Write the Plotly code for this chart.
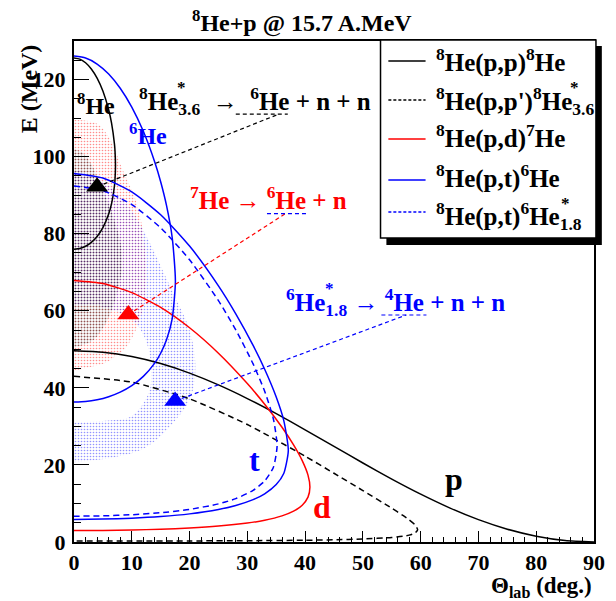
import plotly.graph_objects as go

# ---------------- data ----------------
# 8He(p,p)8He : proton branch
pp_p_theta = [0, 5, 10, 15, 20, 25, 30, 35, 40, 45, 50, 55, 60, 65, 70, 75, 80, 85, 90]
pp_p_E = [49.62, 49.24, 48.12, 46.30, 43.82, 40.76, 37.22, 33.30, 29.12, 24.81, 20.50,
          16.32, 12.41, 8.86, 5.80, 3.32, 1.50, 0.38, 0.0]
# 8He(p,p)8He : recoiling 8He branch
pp_he_theta = [0, 1, 2, 3, 4, 5, 6, 6.5, 7, 7.1, 7.18, 7.1, 7, 6.5, 6, 5, 4, 3, 2, 1, 0]
pp_he_E = [125.6, 125.3, 124.36, 122.75, 120.36, 117.0, 112.15, 108.7, 103.32, 101.44, 97.69,
           94.08, 92.37, 87.79, 85.09, 81.57, 79.29, 77.75, 76.74, 76.17, 75.98]
# 8He(p,p')8He*(3.6)
ppx_theta = [0, 10, 20, 30, 40, 45, 50, 55, 57, 58, 59, 59.48, 59, 58, 57, 55, 50, 45, 40, 30, 20, 10, 0]
ppx_E = [42.98, 41.48, 37.14, 30.48, 22.26, 17.84, 13.34, 8.76, 6.82, 5.76, 4.48, 3.20,
         2.29, 1.78, 1.50, 1.17, 0.77, 0.57, 0.46, 0.34, 0.28, 0.25, 0.24]
# 8He(p,d)7He
pd_theta = [0, 5, 10, 15, 20, 25, 30, 33, 36, 38, 39.5, 40.5, 40.83, 40.5, 39.5, 38, 36, 33, 30, 25, 20, 15, 10, 5, 0]
pd_E = [67.86, 67.07, 64.72, 60.87, 55.59, 48.99, 41.11, 35.75, 29.77, 25.21, 21.13, 17.34, 14.20,
        11.64, 9.55, 8.00, 6.78, 5.64, 4.91, 4.12, 3.63, 3.32, 3.12, 3.01, 2.97]
# 8He(p,t)6He : triton branch
pt_theta = [0, 5, 10, 15, 20, 25, 28, 31, 33, 35, 36.3, 37.09, 36.3, 35, 33, 31, 28, 25, 20, 15, 10, 5, 0]
pt_E = [95.63, 94.43, 90.84, 84.92, 76.78, 66.48, 59.22, 51.02, 44.83, 37.62, 31.55, 23.68,
        17.77, 14.91, 12.51, 10.99, 9.47, 8.44, 7.30, 6.60, 6.17, 5.94, 5.86]
# 8He(p,t)6He : 6He branch
pt_he_theta = [0, 2, 4, 6, 8, 10, 12, 14, 15, 16, 17, 17.55, 17, 16, 15, 14, 12, 10, 8, 6, 4, 2, 0]
pt_he_E = [126.08, 125.57, 124.03, 121.44, 117.75, 112.85, 106.56, 98.48, 93.47, 87.39, 78.95, 67.66,
           57.99, 52.39, 48.98, 46.49, 42.97, 40.57, 38.88, 37.70, 36.91, 36.46, 36.31]
# 8He(p,t)6He*(1.8)
ptx_theta = [0, 5, 10, 15, 20, 25, 28, 31, 33, 34.5, 35.15, 34.5, 33, 31, 28, 25, 20, 15, 10, 5, 0]
ptx_E = [92.40, 91.18, 87.54, 81.53, 73.23, 62.63, 55.04, 46.21, 39.11, 31.99, 24.88,
         19.35, 15.83, 13.40, 11.25, 9.89, 8.45, 7.59, 7.07, 6.79, 6.70]

# simulated-event clouds (outline of each band)
red_cloud_theta = [0, 3, 5.5, 7, 9, 10.7, 12, 12.5, 12.5, 12, 10.7, 8.3, 6.4, 4, 0]
red_cloud_E = [44.5, 45.5, 46.5, 48, 50.5, 55, 61, 67.9, 71, 80, 88.6, 97, 104, 108.5, 109.5]
black_cloud_theta = [0, 3, 4.8, 6.5, 7.5, 8.2, 8.2, 7.5, 6.2, 4.5, 3, 1.5, 0]
black_cloud_E = [50.5, 52, 55, 60, 65, 70, 76, 81, 87, 93, 98, 101, 102]
blue_cloud_theta = [0, 7, 12.5, 17.1, 20.2, 21, 20, 18, 15.5, 13, 10, 6.5, 3, 0,
                    0, 3.5, 7, 10.5, 12.5, 13.3, 13.2, 12, 9.8, 6, 0]
blue_cloud_E = [20.7, 22, 24.6, 30.8, 37.6, 46, 55, 62, 70, 78, 86, 92, 95, 96,
                62, 61.5, 60, 57, 52, 46, 40, 36, 32.5, 31.5, 31]

# decay markers
marker_theta = [4.0, 9.4, 17.5]
marker_E = [92.2, 59.0, 36.6]
marker_colors = ["black", "red", "blue"]

# pointer lines (from marker to label) and label underlines
pointer_end_theta = [35.4, 36.6, 57.5]
pointer_end_E = [111.0, 85.2, 58.9]
pointer_colors = ["black", "red", "blue"]
underline_theta0 = [28.0, 33.4, 53.2]
underline_theta1 = [37.0, 40.2, 61.0]
underline_E = [111.0, 85.2, 58.9]

FONT = "Liberation Serif"
TS = 25  # text size

fig = go.Figure()

# clouds
for th, e, col, sz, sol in [
    (red_cloud_theta, red_cloud_E, "rgba(255,0,0,0.9)", 3, 0.24),
    (blue_cloud_theta, blue_cloud_E, "rgba(0,0,255,0.85)", 3, 0.24),
    (black_cloud_theta, black_cloud_E, "rgba(0,0,0,0.85)", 3, 0.3),
]:
    fig.add_trace(go.Scatter(
        x=th, y=e, mode="lines", line=dict(width=0, shape="spline"), fill="toself",
        fillpattern=dict(shape=".", fgcolor=col, bgcolor="rgba(0,0,0,0)", size=sz, solidity=sol),
        hoverinfo="skip", showlegend=False))

# kinematic curves
curves = [
    (pp_p_theta, pp_p_E, "black", "solid"),
    (pp_he_theta, pp_he_E, "black", "solid"),
    (ppx_theta, ppx_E, "black", "6px,4px"),
    (pd_theta, pd_E, "red", "solid"),
    (pt_theta, pt_E, "blue", "solid"),
    (pt_he_theta, pt_he_E, "blue", "solid"),
    (ptx_theta, ptx_E, "blue", "6px,4px"),
]
for th, e, col, dash in curves:
    fig.add_trace(go.Scatter(x=th, y=e, mode="lines",
                             line=dict(color=col, width=1.5, dash=dash, shape="spline", smoothing=0.6),
                             showlegend=False))

# pointer lines and underlines
for i in range(3):
    fig.add_trace(go.Scatter(x=[marker_theta[i], pointer_end_theta[i]], y=[marker_E[i], pointer_end_E[i]],
                             mode="lines", line=dict(color=pointer_colors[i], width=1.2, dash="4px,3px"),
                             showlegend=False))
underline_colors = ["black", "blue", "blue"]
for i in range(3):
    fig.add_trace(go.Scatter(x=[underline_theta0[i], underline_theta1[i]], y=[underline_E[i], underline_E[i]],
                             mode="lines", line=dict(color=underline_colors[i], width=1.2, dash="4px,3px"),
                             showlegend=False))

# markers
fig.add_trace(go.Scatter(x=marker_theta, y=marker_E, mode="markers",
                         marker=dict(symbol="triangle-up", size=19, color=marker_colors, line=dict(width=0)),
                         showlegend=False))

# ---------------- text ----------------
def ann(x, y, text, color="black", size=TS, xanchor="left", yanchor="middle", xref="x", yref="y", **kw):
    fig.add_annotation(x=x, y=y, xref=xref, yref=yref, text=text, showarrow=False,
                       xanchor=xanchor, yanchor=yanchor,
                       font=dict(family=FONT, size=size, color=color, weight="bold"), **kw)

ann(0.15, 113.6, "<b><sup>8</sup>He</b>", size=24)
ann(9.15, 105.9, "<b><sup>6</sup>He</b>", color="blue", size=24)
ann(10.85, 114.5, "<b><sup>8</sup>He<sub>3.6</sub>  →  <sup>6</sup>He + n + n</b>")
ann(18.6, 114.5, "<b>*</b>", size=17, xanchor="center", yshift=13)
ann(19.66, 89.3, "<b><sup>7</sup>He → <sup>6</sup>He + n</b>", color="red")
ann(36.3, 62.3, "<b><sup>6</sup>He<sub>1.8</sub> → <sup>4</sup>He + n + n</b>", color="blue")
ann(44.2, 62.3, "<b>*</b>", color="blue", size=17, xanchor="center", yshift=13)
ann(31.2, 21.3, "<b>t</b>", color="blue", size=32, xanchor="center")
ann(42.9, 9.1, "<b>d</b>", color="red", size=32, xanchor="center")
ann(65.8, 16.3, "<b>p</b>", color="black", size=32, xanchor="center")

# axis titles
ann(1.0, -0.09, "<b>Θ<sub>lab</sub> (deg.)</b>", xref="paper", yref="paper", xanchor="right", size=23)
ann(-0.087, 0.998, "<b>E (MeV)</b>", xref="paper", yref="paper", xanchor="center", yanchor="top",
    size=24, textangle=-90)

# ---------------- legend (box with shadow) ----------------
PW, PH, L, B = 531.0, 501.0, 74.0, 542.0
def px(x):
    return (x - L) / PW
def py(y):
    return (B - y) / PH

fig.add_shape(type="rect", xref="paper", yref="paper", x0=px(393), x1=px(613), y0=py(245), y1=py(46),
              fillcolor="black", line=dict(width=0), layer="above")
fig.add_shape(type="rect", xref="paper", yref="paper", x0=px(387), x1=px(607), y0=py(238), y1=py(40),
              fillcolor="white", line=dict(color="black", width=1.5), layer="above")

legend_labels = [
    "<b><sup>8</sup>He(p,p)<sup>8</sup>He</b>",
    "<b><sup>8</sup>He(p,p')<sup>8</sup>He<sub>3.6</sub></b>",
    "<b><sup>8</sup>He(p,d)<sup>7</sup>He</b>",
    "<b><sup>8</sup>He(p,t)<sup>6</sup>He</b>",
    "<b><sup>8</sup>He(p,t)<sup>6</sup>He<sub>1.8</sub></b>",
]
legend_colors = ["black", "black", "red", "blue", "blue"]
legend_dash = ["solid", "3px,2px", "solid", "solid", "3px,2px"]
legend_line_y = [61, 100, 139, 180, 212]
legend_text_y = [60, 101, 137, 177, 216]
legend_star_x = [None, 585, None, None, 576]
for lab, col, dsh, ly, ty, sx in zip(legend_labels, legend_colors, legend_dash, legend_line_y,
                                     legend_text_y, legend_star_x):
    fig.add_shape(type="line", xref="paper", yref="paper", x0=px(395), x1=px(433), y0=py(ly), y1=py(ly),
                  line=dict(color=col, width=1.3, dash=dsh), layer="above")
    fig.add_annotation(x=px(442), y=py(ty), xref="paper", yref="paper", text=lab, showarrow=False,
                       xanchor="left", yanchor="middle",
                       font=dict(family=FONT, size=TS, color="black", weight="bold"))
    if sx is not None:
        fig.add_annotation(x=px(sx), y=py(ty), xref="paper", yref="paper", text="<b>*</b>", showarrow=False,
                           xanchor="center", yanchor="middle", yshift=13,
                           font=dict(family=FONT, size=17, color="black", weight="bold"))

# ---------------- layout ----------------
axis_common = dict(showline=True, linecolor="black", linewidth=2, mirror=True, showgrid=False,
                   zeroline=False, ticks="inside", tickcolor="black", tickwidth=1.3,
                   tickfont=dict(family=FONT, size=22, color="black", weight="bold"))
fig.update_layout(
    width=616, height=601,
    margin=dict(l=74, r=11, t=41, b=59),
    paper_bgcolor="white", plot_bgcolor="white",
    title=dict(text="<b><sup>8</sup>He+p @ 15.7 A.MeV</b>", x=0.49, xref="container", xanchor="center",
               y=1 - 23 / 601, yref="container", yanchor="middle",
               font=dict(family=FONT, size=24, color="black", weight="bold")),
    xaxis=dict(range=[0, 90], dtick=10, ticklen=11, ticklabelstandoff=0,
               minor=dict(ticks="inside", dtick=2, ticklen=5, tickcolor="black", tickwidth=1), **axis_common),
    yaxis=dict(range=[0, 130], dtick=20, ticklen=15, ticklabelstandoff=2,
               minor=dict(ticks="inside", dtick=5, ticklen=7, tickcolor="black", tickwidth=1), **axis_common),
    showlegend=False,
)

fig.write_html("out.html")
